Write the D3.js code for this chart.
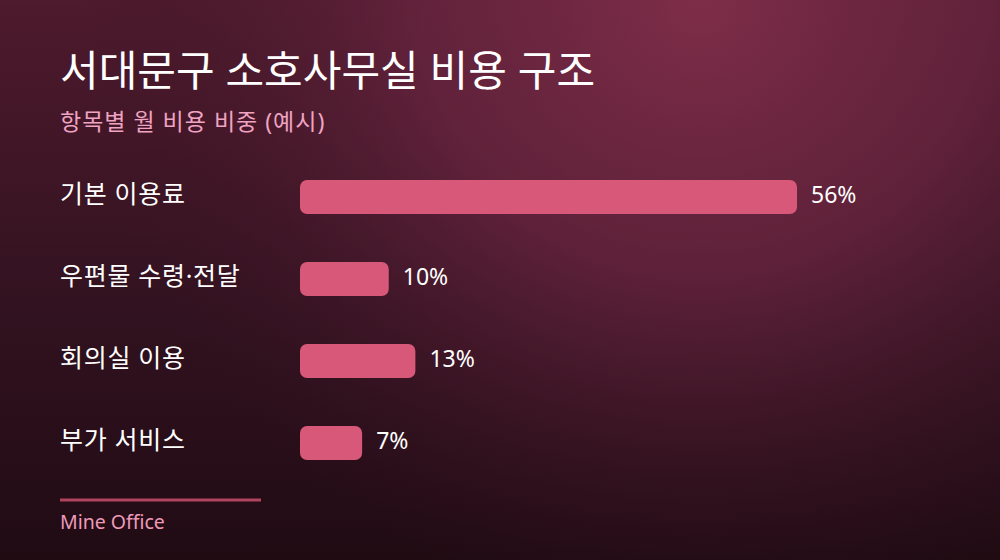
<!DOCTYPE html>
<html><head><meta charset="utf-8">
<script src="https://cdn.jsdelivr.net/npm/d3@7"></script>
<style>
html,body{margin:0;padding:0;background:#2a0f1a;}
svg{display:block;font-family:"Noto Sans","Noto Sans CJK KR",sans-serif;}
</style></head>
<body>
<svg id="chart" width="1000" height="560"></svg>
<script>
const categories = ["기본 이용료", "우편물 수령·전달", "회의실 이용", "부가 서비스"];
const values = [56, 10, 13, 7];
const valueLabels = ["56%", "10%", "13%", "7%"];
const title = "서대문구 소호사무실 비용 구조";
const subtitle = "항목별 월 비용 비중 (예시)";
const source = "Mine Office";

const svg = d3.select("#chart");
const W = 1000, H = 560;
const defs = svg.append("defs");

const lg = defs.append("linearGradient").attr("id","bgLin").attr("x1",0).attr("y1",0).attr("x2",0).attr("y2",1);
lg.append("stop").attr("offset","0%").attr("stop-color","#4e1a2d");
lg.append("stop").attr("offset","55%").attr("stop-color","#321220");
lg.append("stop").attr("offset","100%").attr("stop-color","#200b13");

const rg = defs.append("radialGradient").attr("id","bgRad")
  .attr("gradientUnits","userSpaceOnUse").attr("cx",700).attr("cy",0).attr("r",620);
rg.append("stop").attr("offset","0%").attr("stop-color","#7e2d48").attr("stop-opacity",1);
rg.append("stop").attr("offset","45%").attr("stop-color","#6a2540").attr("stop-opacity",0.75);
rg.append("stop").attr("offset","100%").attr("stop-color","#3a1424").attr("stop-opacity",0);

svg.append("rect").attr("width",W).attr("height",H).attr("fill","url(#bgLin)");
svg.append("rect").attr("width",W).attr("height",H).attr("fill","url(#bgRad)");

svg.append("text").attr("x",60).attr("y",86).attr("fill","#ffffff")
  .attr("font-size",42).attr("font-weight",400).text(title);
svg.append("text").attr("x",60).attr("y",130).attr("fill","#f0a3c2")
  .attr("font-size",23).attr("letter-spacing",1).text(subtitle);

const x = d3.scaleLinear().domain([0, 56]).range([0, 497]);
const y = d3.scaleBand().domain(categories).range([180, 460]).paddingInner(0.585).paddingOuter(0).align(0);

const barX = 300;
const g = svg.append("g");
const rows = g.selectAll("g.row").data(categories.map((c,i)=>({c, v:values[i], l:valueLabels[i]})))
  .enter().append("g").attr("class","row");

rows.append("rect")
  .attr("x", barX).attr("y", d=>y(d.c))
  .attr("width", d=>x(d.v)).attr("height", y.bandwidth())
  .attr("rx",7).attr("ry",7).attr("fill","#d75878");

rows.append("text").attr("x",60).attr("y", d=>y(d.c)+y.bandwidth()/2 - 3)
  .attr("dy","0.35em").attr("fill","#ffffff").attr("font-size",25).attr("letter-spacing",0.7).text(d=>d.c);

rows.append("text").attr("x", d=>barX + x(d.v) + 14).attr("y", d=>y(d.c)+y.bandwidth()/2 - 2)
  .attr("dy","0.35em").attr("fill","#ffffff").attr("font-size",23).text(d=>d.l);

svg.append("line").attr("x1",60).attr("x2",261).attr("y1",500).attr("y2",500)
  .attr("stroke","#b0445f").attr("stroke-width",3);
svg.append("text").attr("x",60).attr("y",529).attr("fill","#ee9ab8")
  .attr("font-size",19.5).text(source);
</script>
</body></html>
